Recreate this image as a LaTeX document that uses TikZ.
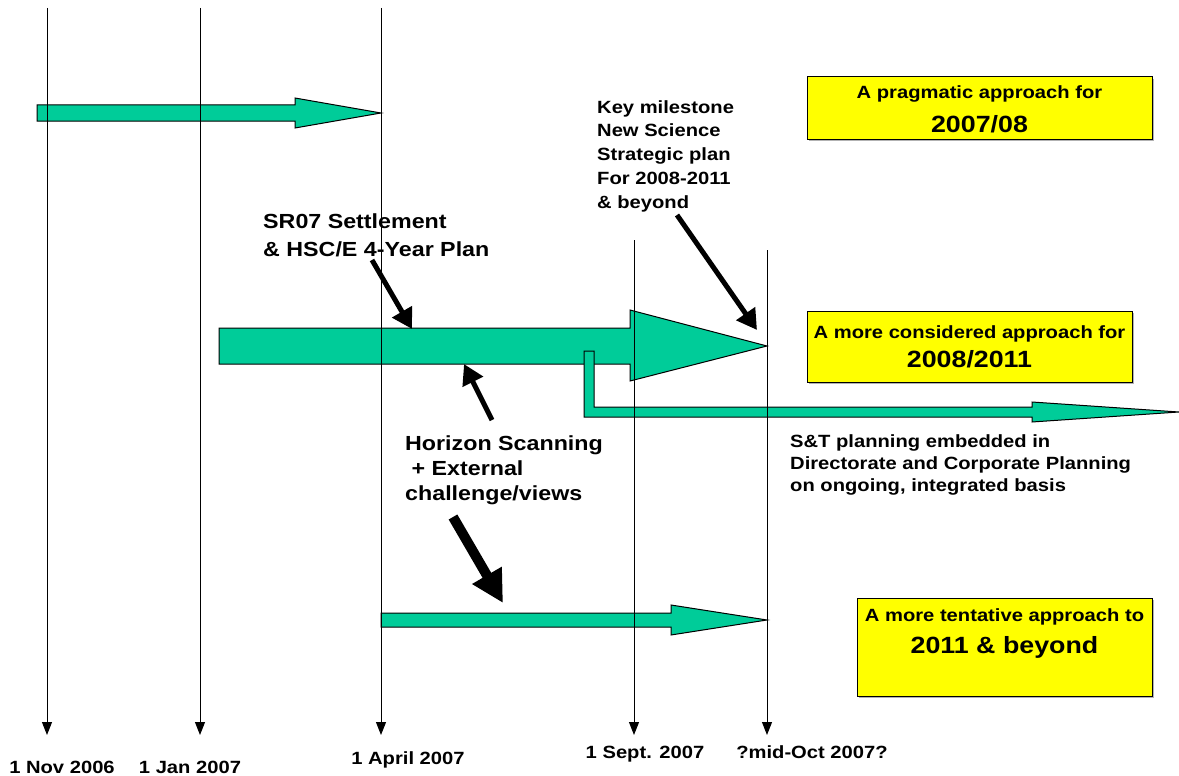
\documentclass[tikz,border=0pt]{standalone}
\usepackage{fontspec}
\setmainfont{Liberation Sans}[FakeStretch=1.14]
\usetikzlibrary{arrows.meta,shadows}
\definecolor{band}{RGB}{0,204,153}
\definecolor{note}{RGB}{255,255,0}

\begin{document}
\begin{tikzpicture}[x=1pt, y=-1pt,
  blk/.style={fill=band, draw=black, line width=1pt, line join=miter},
  tick/.style={line width=1pt, -{Triangle[length=13pt,width=10pt]}},
  ptr/.style={line width=5pt, -{Triangle[length=20pt,width=22pt]}},
  bigptr/.style={line width=10pt, -{Triangle[length=32pt,width=32pt]}},
  box/.style={draw=black, fill=note, line width=1pt, inner sep=0pt,
    drop shadow={shadow xshift=2pt, shadow yshift=-2pt, fill=gray!60, opacity=1}},
  small/.style={font=\fontsize{17.7}{22.5}\selectfont\bfseries},
  mid/.style={font=\fontsize{20.4}{28}\selectfont\bfseries},
  big/.style={font=\fontsize{23.5}{28}\selectfont\bfseries},
  date/.style={small, anchor=base, inner sep=0pt},
  boxtxt/.style={anchor=base, inner sep=0pt},
  say/.style={anchor=base west, align=left, inner sep=0pt}]  % base = last line
  \useasboundingbox (0,0) rectangle (1179,776);
  % --- green phase arrows ---
  \draw[blk] (37,105) -- (295,105) -- (295,98) -- (381,113) -- (295,128) -- (295,121) -- (37,121) -- cycle;
  \draw[blk] (219,328) -- (630,328) -- (630,310) -- (767,346) -- (630,381) -- (630,364) -- (219,364) -- cycle;
  \draw[blk] (584,351) -- (594,351) -- (594,407) -- (1032,407) -- (1032,402) -- (1179,412)
    -- (1032,422) -- (1032,417) -- (584,417) -- cycle;  % branch into ongoing planning
  \draw[blk] (381,613) -- (671,613) -- (671,605) -- (767,620) -- (671,635) -- (671,627) -- (381,627) -- cycle;
  % --- time lines (x / top of line / name) ---
  \foreach \x/\top/\nm in {47/8/nov, 200/8/jan, 381/8/apr, 634/240/sep, 767/250/oct} {
    \coordinate (t-\nm) at (\x,\top);
    \coordinate (b-\nm) at (\x,735);
    \draw[tick] (t-\nm) -- (b-\nm);
  }
  % --- dates ---
  \node[date] (d-nov) at (62,773) {1 Nov 2006};
  \node[date] (d-jan) at (190,773) {1 Jan 2007};
  \node[date] (d-apr) at (408,764) {1 April 2007};
  \node[date] (d-sep) at (645,758) {1 Sept. 2007};
  \node[date] (d-oct) at (812,758) {?mid-Oct 2007?};
  % --- approach boxes ---
  \node[box, minimum width=345pt, minimum height=62pt] (prag) at (979.5,108) {};
  \node[small, boxtxt] (prag-a) at (979.5,99) {A pragmatic approach for};
  \node[big, boxtxt] (prag-b) at (979.5,132) {2007/08};
  \node[box, minimum width=325pt, minimum height=71pt] (cons) at (969.5,346.5) {};
  \node[small, boxtxt] (cons-a) at (969.5,338) {A more considered approach for};
  \node[big, boxtxt] (cons-b) at (969.5,367) {2008/2011};
  \node[box, minimum width=295pt, minimum height=98pt] (tent) at (1004.5,647) {};
  \node[small, boxtxt] (tent-a) at (1004.5,621) {A more tentative approach to};
  \node[big, boxtxt] (tent-b) at (1004.5,653) {2011 \& beyond};
  % --- notes ---
  \node[mid, say] (sr) at (263,256) {SR07 Settlement\\\& HSC/E 4-Year Plan};
  \node[say, font=\fontsize{17.7}{23.75}\selectfont\bfseries] (key) at (597,208)
    {Key milestone\\New Science\\Strategic plan\\For 2008-2011\\\& beyond};
  \node[say, font=\fontsize{20.4}{25}\selectfont\bfseries] (hz) at (405,500)
    {Horizon Scanning\\\ + External\\challenge/views};
  \node[say, font=\fontsize{17.7}{22}\selectfont\bfseries] (st) at (790,491)
    {S\&T planning embedded in\\Directorate and Corporate Planning\\on ongoing, integrated basis};
  % --- pointers ---
  \coordinate (sr-from) at (372,260);  \coordinate (sr-to) at (412,329);
  \coordinate (key-from) at (677,215); \coordinate (key-to) at (757,330);
  \coordinate (hz-from) at (492,420);  \coordinate (hz-to) at (464,364);
  \coordinate (ext-from) at (453,517); \coordinate (ext-to) at (503,603);
  \draw[ptr] (sr-from) -- (sr-to);
  \draw[ptr] (key-from) -- (key-to);
  \draw[ptr] (hz-from) -- (hz-to);
  \draw[bigptr] (ext-from) -- (ext-to);
\end{tikzpicture}
\end{document}
